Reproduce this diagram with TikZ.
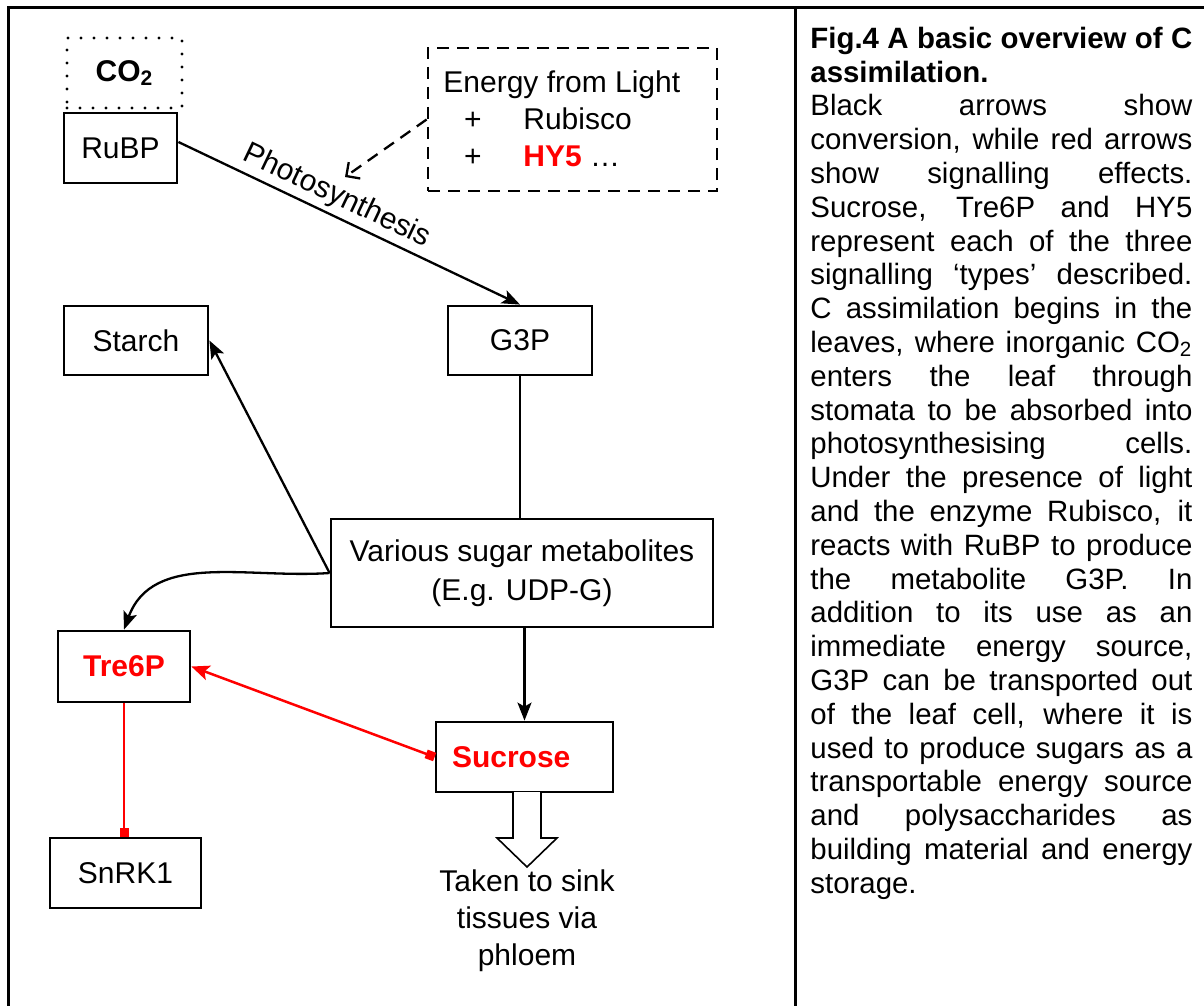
\documentclass[tikz,border=0pt]{standalone}
\usepackage{fontspec}
\setmainfont{Liberation Sans}
\usetikzlibrary{arrows.meta}
\newcommand\fillline[1]{\makebox[191pt][s]{#1}}
\begin{document}
\begin{tikzpicture}[x=0.5pt,y=-0.5pt,
  font=\fontsize{15}{18.5}\selectfont,
  box/.style={draw=black, line width=1.4pt, inner sep=0pt, align=center},
  dotbox/.style={draw=black, line width=1.7pt, dash pattern=on 0pt off 6.5pt, line cap=round, inner sep=0pt},
  dashbox/.style={draw=black, line width=1.4pt, dash pattern=on 6pt off 4pt, inner sep=0pt},
  conv/.style={draw=black, line width=1.15pt, -{Stealth[length=9pt,width=7pt,inset=2pt]}},
  sig/.style={draw=red, line width=1.25pt},
  label/.style={inner sep=0pt},
  frame/.style={draw=black, line width=1.5pt}]
\useasboundingbox (0,0) rectangle (1204,1006);

% outer frame and column divider
\draw[frame] (1204,8) -- (8,8) -- (8,1006);
\draw[frame] (795,8) -- (795,1006);

% boxes
\node[dotbox, minimum width=57.5pt, minimum height=35pt] (co2) at (124.5,73) {\textbf{CO}\textsubscript{\textbf{2}}};
\node[box, minimum width=56.5pt, minimum height=35pt] (rubp) at (120.5,148) {RuBP};
\node[dashbox, minimum width=144.5pt, minimum height=71.5pt] (light) at (572.5,119.5) {};
\node[label, anchor=base west] (lighttxt) at (443,93) {Energy from Light};
\node[label, anchor=base] (plusa) at (473,129) {+};
\node[label, anchor=base west] (rubisco) at (523,129) {Rubisco};
\node[label, anchor=base] (plusb) at (473,166) {+};
\node[label, anchor=base west] (hy5) at (523,166) {\textcolor{red}{\textbf{HY5}} …};

\node[box, minimum width=72pt, minimum height=34.5pt] (g3p) at (520,340.5) {G3P};
\node[box, minimum width=72pt, minimum height=34.5pt] (starch) at (136,340.5) {Starch};
\node[box, minimum width=191pt, minimum height=54pt, font=\fontsize{15}{19.5}\selectfont] (sugar) at (522,573) {Various sugar metabolites\\(E.g. UDP-G)};
\node[box, minimum width=66pt, minimum height=35.5pt, text=red, font=\fontsize{15}{18.5}\selectfont\bfseries] (tre6p) at (124,666.5) {Tre6P};
\node[box, minimum width=88.5pt, minimum height=35pt, text width=72.5pt, align=left, inner xsep=8pt, text=red, font=\fontsize{15}{18.5}\selectfont\bfseries] (sucrose) at (524.5,757) {Sucrose};
\node[box, minimum width=75.5pt, minimum height=35pt] (snrk1) at (125.5,873) {SnRK1};

% conversions
\draw[conv] ([yshift=3pt]rubp.east) -- node[pos=0.44, sloped, above, inner sep=2pt] (photo) {Photosynthesis} (g3p.north);
\coordinate (lighttip) at (345,177);
\draw[draw=black, line width=1.15pt, dash pattern=on 6pt off 4pt, -{Straight Barb[length=5pt,width=10pt]}] (light.west) -- (lighttip);
\draw[line width=1.15pt] (g3p.south) -- (g3p.south |- sugar.north);
\draw[conv] (sugar.west) -- (starch.east);
\draw[conv] (sugar.west) to[out=184, in=70] (tre6p.north);
\draw[conv] (sucrose.north |- sugar.south) -- (sucrose.north);

% signalling
\draw[sig, {Stealth[length=9pt,width=7.5pt,inset=2pt]}-{Square[length=4.5pt,width=4.5pt]}] (tre6p.east) -- (sucrose.west);
\draw[sig, -{Square[length=4.5pt,width=4.5pt]}] (tre6p.south) -- (tre6p.south |- snrk1.north);

% export of sucrose
\draw[line width=0.8pt, fill=white] (513,792) -- (513,838) -- (497,838) -- (527,867) -- (557,838) -- (541,838) -- (541,792);
\node[align=center, inner sep=0pt] (sink) at (527,921) {Taken to sink\\tissues via\\phloem};

% caption
\node[anchor=north west, inner sep=0pt, align=left, font=\fontsize{14.7}{16.9}\selectfont] (caption) at (810,26.6) {%
\fillline{\textbf{Fig.4 A basic overview of C}}\\
\textbf{assimilation.}\\
\fillline{Black arrows show}\\
\fillline{conversion, while red arrows}\\
\fillline{show signalling effects.}\\
\fillline{Sucrose, Tre6P and HY5}\\
\fillline{represent each of the three}\\
\fillline{signalling ‘types’ described.}\\
\fillline{C assimilation begins in the}\\
\fillline{leaves, where inorganic CO\textsubscript{2}}\\
\fillline{enters the leaf through}\\
\fillline{stomata to be absorbed into}\\
\fillline{photosynthesising cells.}\\
\fillline{Under the presence of light}\\
\fillline{and the enzyme Rubisco, it}\\
\fillline{reacts with RuBP to produce}\\
\fillline{the metabolite G3P. In}\\
\fillline{addition to its use as an}\\
\fillline{immediate energy source,}\\
\fillline{G3P can be transported out}\\
\fillline{of the leaf cell, where it is}\\
\fillline{used to produce sugars as a}\\
\fillline{transportable energy source}\\
\fillline{and polysaccharides as}\\
\fillline{building material and energy}\\
storage.};
\end{tikzpicture}
\end{document}
